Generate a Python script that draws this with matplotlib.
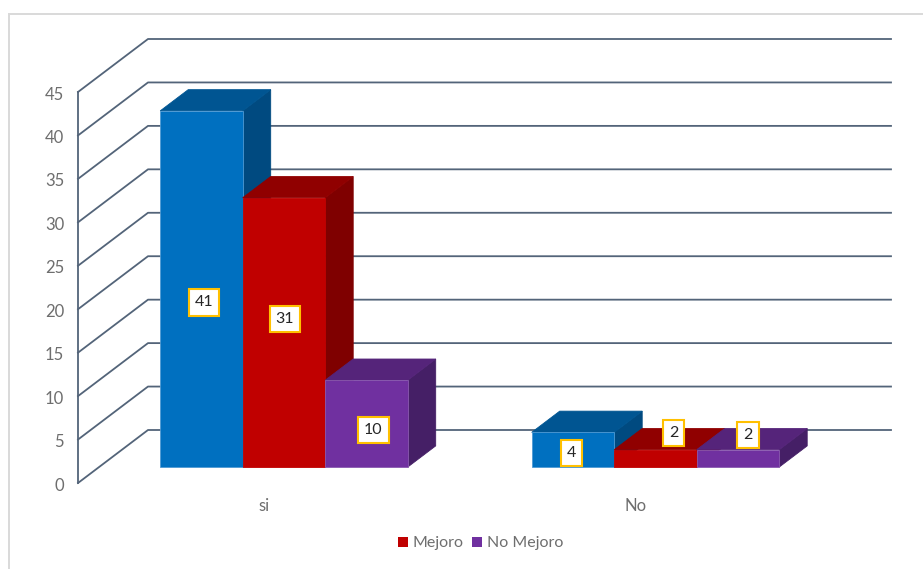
import matplotlib
matplotlib.use("Agg")
import matplotlib.pyplot as plt
from matplotlib.patches import Polygon, Rectangle
from matplotlib.transforms import ScaledTranslation

plt.rcParams['font.family'] = ['Lato', 'DejaVu Sans']

categories = ["si", "No"]
series_names = ["Total", "Mejoro", "No Mejoro"]
total = [41, 4]
mejoro = [31, 2]
no_mejoro = [10, 2]
yticks = [0, 5, 10, 15, 20, 25, 30, 35, 40, 45]

front_colors = ["#0070C0", "#C00000", "#7030A0"]
top_colors = ["#005592", "#900000", "#55247A"]
side_colors = ["#004A80", "#7F0000", "#451F66"]
edge_colors = ["#4E9AD4", "#C00000", "#8A5AB0"]
GRID = "#536479"
TEXT = "#6E6E6E"

W, H = 923, 569
fig = plt.figure(figsize=(W / 100, H / 100), dpi=100, facecolor="white")
fig.add_artist(Rectangle((9 / W, -0.01), (W - 9 + 10) / W, 1.01 - 13.5 / H, transform=fig.transFigure,
                         facecolor="white", edgecolor="#D9D9D9", linewidth=1.4, zorder=-1))

left, right, top, bottom = 78, 821, 92, 483
ax = fig.add_axes([left / W, 1 - bottom / H, (right - left) / W, (bottom - top) / H])
ax.patch.set_alpha(0)
ax.set_xlim(0, 2)
ax.set_ylim(0, 45)

# depth of the 3-D box expressed in data units of the front plane
DX = 70 / ((right - left) / 2)
DY = 53 / ((bottom - top) / 45)


def proj(x, y, d):
    return (x + d * DX, y + d * DY)


# walls and gridlines
for v in yticks:
    ax.plot([0, DX, 2 + DX], [v, v + DY, v + DY], color=GRID, lw=1.3, clip_on=False, zorder=1,
            solid_joinstyle="round")

BAR_W = 82.5 / ((right - left) / 2)
BAR_SHIFT = -0.8 / ((right - left) / 2)
D0, D1 = 0.3, 0.7
values = [total, mejoro, no_mejoro]
# label displacement from the centre of each bar's front face, in pixels (x right, y up)
label_offsets = [[(2.5, -12), (1, 15), (7, -5)], [(-1.5, -1.5), (18, 27), (10, 25)]]

z = 3
for c in range(len(categories)):
    for s in range(len(values)):
        v = values[s][c]
        x0 = c + 0.5 + (s - 1.5) * BAR_W + BAR_SHIFT
        x1 = x0 + BAR_W
        front = [proj(x0, 0, D0), proj(x1, 0, D0), proj(x1, v, D0), proj(x0, v, D0)]
        topf = [proj(x0, v, D0), proj(x1, v, D0), proj(x1, v, D1), proj(x0, v, D1)]
        side = [proj(x1, 0, D0), proj(x1, 0, D1), proj(x1, v, D1), proj(x1, v, D0)]
        for pts, col in ((side, side_colors[s]), (topf, top_colors[s]), (front, front_colors[s])):
            ax.add_patch(Polygon(pts, closed=True, facecolor=col, edgecolor=edge_colors[s] if col == front_colors[s] else col,
                                 linewidth=0.6, clip_on=False, zorder=z))
        z += 1
        cx, cy = proj(x0 + BAR_W / 2, v / 2, D0)
        off = label_offsets[c][s]
        ax.annotate(str(v), (cx, cy), xytext=(off[0] * 0.72, off[1] * 0.72), textcoords="offset points",
                    ha="center", va="center_baseline", fontsize=11.5, color="#262626", zorder=50, annotation_clip=False,
                    bbox=dict(boxstyle="square,pad=0.38", facecolor="white", edgecolor="#FFC000", linewidth=1.5))

for name in ("top", "right", "bottom"):
    ax.spines[name].set_visible(False)
ax.spines["left"].set_color(GRID)
ax.spines["left"].set_linewidth(1.3)
ax.set_yticks(yticks)
ax.set_xticks([0.5, 1.5])
ax.set_xticklabels(categories)
ax.tick_params(axis="y", length=0, pad=10, labelsize=12, labelcolor=TEXT)
ax.tick_params(axis="x", length=0, pad=11, labelsize=12, labelcolor=TEXT)
# labels sit slightly below the tick line
shift = ScaledTranslation(0, -0.8 / 72, fig.dpi_scale_trans)
for lab in ax.get_yticklabels():
    lab.set_transform(lab.get_transform() + shift)

handles = [Rectangle((0, 0), 1, 1, facecolor=front_colors[i]) for i in (1, 2)]
fig.legend(handles, series_names[1:], loc="center", bbox_to_anchor=(480.5 / W, 1 - 543.5 / H), ncol=2, frameon=False,
           fontsize=11.5, labelcolor=TEXT, handlelength=0.6, handleheight=0.6, handletextpad=0.3, columnspacing=0.56)

fig.savefig("out.png", dpi=100)
